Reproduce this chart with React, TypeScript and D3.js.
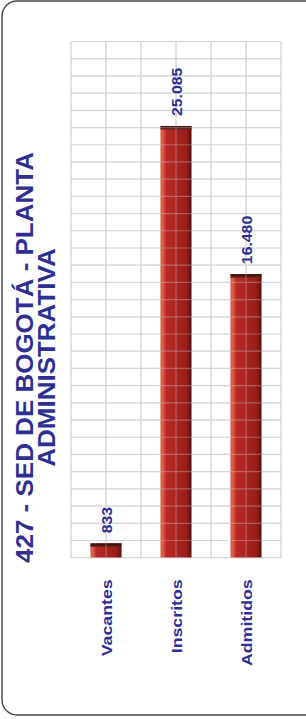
import React from "react";
import * as d3 from "d3";

const categories = ["Vacantes", "Inscritos", "Admitidos"];
const values = [833, 25085, 16480];
const valueLabels = ["833", "25.085", "16.480"];
const titleLines = ["427 - SED DE BOGOTÁ - PLANTA", "ADMINISTRATIVA"];
const yMax = 30000;
const yStep = 1000;

const W = 306;
const H = 719;
const BLUE = "#2d2f93";
const FONT = "'Liberation Sans', Arial, sans-serif";

export default function App() {
  const left = 71;
  const right = 281;
  const top = 41.5;
  const bottom = 557.7;

  const x = d3
    .scaleBand<string>()
    .domain(categories)
    .range([left, right])
    .paddingInner(0.557)
    .paddingOuter(0.2785);
  const y = d3.scaleLinear().domain([0, yMax]).range([bottom, top]);
  const cols = d3.scaleLinear().domain([0, categories.length * 2]).range([left, right]);

  const hTicks = d3.range(0, yMax + 1, yStep);
  const vTicks = d3.range(0, categories.length * 2 + 1);

  const grid = (opacity: number) => (
    <g opacity={opacity}>
      {hTicks.map((t) => (
        <line key={"h" + t} x1={left} x2={right} y1={y(t)} y2={y(t)} stroke="#d6d6d6" strokeWidth={1.2} />
      ))}
      {vTicks.map((t) => (
        <line key={"v" + t} x1={cols(t)} x2={cols(t)} y1={top} y2={bottom} stroke="#d6d6d6" strokeWidth={1.2} />
      ))}
    </g>
  );

  const bw = x.bandwidth();

  return (
    <svg
      width={W}
      height={H}
      style={{ position: "absolute", left: 0, top: 0, background: "#fff" }}
    >
      <defs>
        <linearGradient id="barGrad" x1="0" x2="1" y1="0" y2="0">
          <stop offset="0%" stopColor="#d9543e" />
          <stop offset="8%" stopColor="#e0604a" />
          <stop offset="18%" stopColor="#b82a24" />
          <stop offset="55%" stopColor="#a82220" />
          <stop offset="85%" stopColor="#971d1b" />
          <stop offset="94%" stopColor="#6e1512" />
          <stop offset="100%" stopColor="#4a0f0c" />
        </linearGradient>
        <linearGradient id="capGrad" x1="0" x2="0" y1="0" y2="1">
          <stop offset="0%" stopColor="#2a0c08" />
          <stop offset="100%" stopColor="#6a2218" />
        </linearGradient>
      </defs>
      <rect x={2} y={1} width={330} height={714} rx={15} ry={15} fill="#fff" stroke="#444" strokeWidth={1.4} />

      {grid(1)}

      {categories.map((c, i) => {
        const bx = x(c)!;
        const by = y(values[i]);
        const h = bottom - by;
        return (
          <g key={c}>
            <rect x={bx} y={by} width={bw} height={h} fill="url(#barGrad)" />
            <rect x={bx} y={by} width={bw} height={Math.min(3.5, h)} fill="url(#capGrad)" />
          </g>
        );
      })}

      {grid(0.35)}

      {categories.map((c, i) => {
        const cx = x(c)! + bw / 2;
        const by = y(values[i]);
        const tx = cx + 5.8;
        const ty = by - 10;
        return (
          <text
            key={"v" + c}
            transform={`translate(${tx},${ty}) rotate(-90) scale(1.09,1)`}
            fill={BLUE}
            fontFamily={FONT}
            fontWeight="bold"
            fontSize={14.5}
          >
            {valueLabels[i]}
          </text>
        );
      })}

      {categories.map((c) => {
        const cx = x(c)! + bw / 2;
        return (
          <text
            key={"c" + c}
            transform={`translate(${cx + 6.3},579.3) rotate(-90) scale(1.145,1)`}
            textAnchor="end"
            fill={BLUE}
            fontFamily={FONT}
            fontWeight="bold"
            fontSize={15.5}
          >
            {c}
          </text>
        );
      })}

      {titleLines.map((t, i) => (
        <text
          key={"t" + i}
          transform={`translate(${i === 0 ? 33.3 : 55},357.5) rotate(-90) scale(1.13,1)`}
          textAnchor="middle"
          fill={BLUE}
          fontFamily={FONT}
          fontWeight="bold"
          fontSize={23}
        >
          {t}
        </text>
      ))}
    </svg>
  );
}
